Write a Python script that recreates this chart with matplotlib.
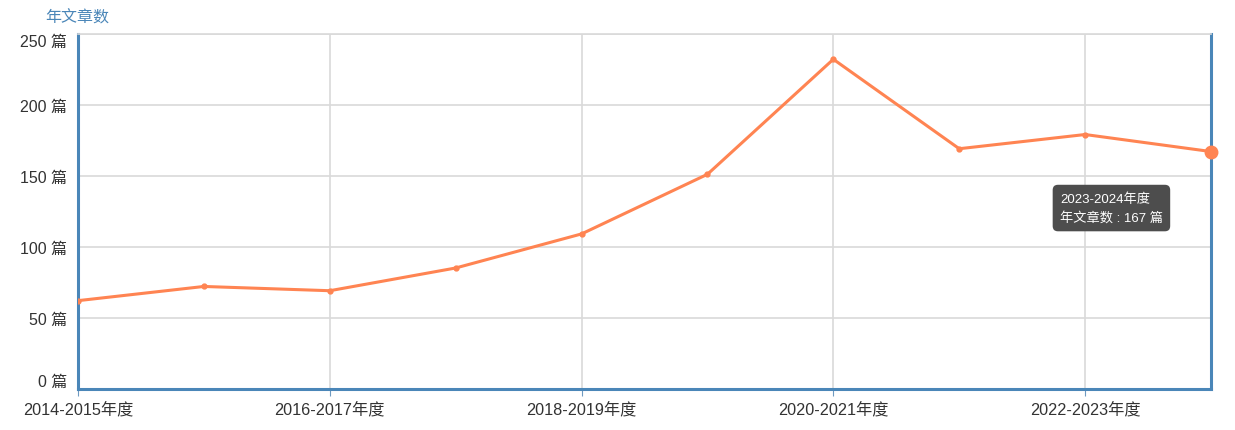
import matplotlib
matplotlib.use('Agg')
import matplotlib.pyplot as plt

plt.rcParams['font.family'] = ['Liberation Sans', 'Noto Sans CJK SC', 'DejaVu Sans']

# data
years = ['2014-2015年度', '2015-2016年度', '2016-2017年度', '2017-2018年度',
         '2018-2019年度', '2019-2020年度', '2020-2021年度', '2021-2022年度',
         '2022-2023年度', '2023-2024年度']
counts = [62, 72, 69, 85, 109, 151, 232, 169, 179, 167]
y_ticks = [0, 50, 100, 150, 200, 250]

line_color = '#ff8452'
axis_color = '#4a86b8'
grid_color = '#d9d9d9'

fig = plt.figure(figsize=(12.35, 4.31), dpi=100)
ax = fig.add_axes([78 / 1235, (431 - 389.7) / 431, (1211 - 78) / 1235, 355 / 431])

x = list(range(len(years)))
ax.plot(x, counts, color=line_color, lw=2.2, marker='o', ms=3.5, zorder=3)
ax.plot(x[-1], counts[-1], 'o', color=line_color, ms=9, zorder=4, clip_on=False)

ax.set_xlim(0, len(years) - 1)
ax.set_ylim(0, 250)
ax.set_yticks(y_ticks)
ax.set_yticklabels([f'{v} 篇' for v in y_ticks])
ax.set_xticks(x[::2])
ax.set_xticklabels(years[::2])

# first/last y labels sit inside the plot edges
ylabels = ax.get_yticklabels()
ylabels[0].set_va('bottom')
ylabels[-1].set_va('top')

ax.grid(True, color=grid_color, lw=1.2)
ax.set_axisbelow(True)

for side in ['left', 'right', 'bottom']:
    ax.spines[side].set_color(axis_color)
    ax.spines[side].set_linewidth(2.2)
ax.spines['top'].set_color(grid_color)
ax.spines['top'].set_linewidth(1.2)

ax.tick_params(axis='y', length=0, pad=8, labelsize=11.5, labelcolor='#333333')
ax.tick_params(axis='x', length=5, color='#6f9ac0', pad=4, labelsize=11.7,
               labelcolor='#333333')

fig.text(45 / 1235, 1 - 18 / 431, '年文章数', color='#4a86b8', fontsize=11.5,
         va='center', ha='left')

# hover tooltip
ax.text(7.80, 138.5, '2023-2024年度\n年文章数 : 167 篇', color='white', fontsize=9.5,
        va='top', ha='left', linespacing=1.65, zorder=5,
        bbox=dict(boxstyle='round,pad=0.55,rounding_size=0.4',
                  facecolor='#4d4d4d', edgecolor='none'))

fig.savefig('out.png', dpi=100)
